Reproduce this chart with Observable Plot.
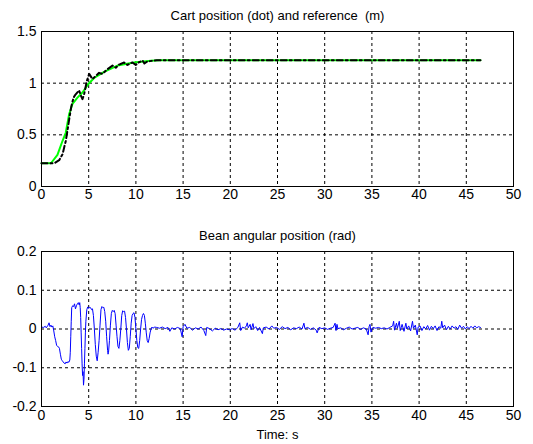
<!DOCTYPE html>
<html>
<head>
<meta charset="utf-8">
<script src="https://cdn.jsdelivr.net/npm/d3@7"></script>
<script src="https://cdn.jsdelivr.net/npm/@observablehq/plot@0.6"></script>
<style>
  html, body { margin: 0; padding: 0; background: white; }
  #chart { width: 533px; height: 444px; }
  #chart svg { display: block; }
</style>
</head>
<body>
<div id="chart"></div>
<script>
// ---- Text ----
const topTitle = "Cart position (dot) and reference  (m)";
const bottomTitle = "Bean angular position (rad)";
const xAxisTitle = "Time: s";

// ---- Ticks ----
const xTicks = [0, 5, 10, 15, 20, 25, 30, 35, 40, 45, 50];
const topYTicks = [0, 0.5, 1, 1.5];
const bottomYTicks = [-0.2, -0.1, 0, 0.1, 0.2];

// ---- Reference (green) ----
const refT = [0, 1.0, 1.69, 2.22, 2.57, 2.93, 3.28, 3.81, 4.34, 4.94, 5.57, 6.63, 8.05, 9.8, 11.6, 12.5, 46.5];
const refV = [0.225, 0.225, 0.306, 0.44, 0.52, 0.70, 0.80, 0.86, 0.91, 0.99, 1.05, 1.11, 1.17, 1.2, 1.216, 1.222, 1.222];

// ---- Cart position (black dash-dot) ----
const cartT = [0, 1.35, 1.87, 2.22, 2.57, 2.75, 2.95, 3.15, 3.39, 3.6, 3.98, 4.17, 4.34, 4.51, 4.8, 5.05, 5.4, 5.75, 6.1, 6.45, 6.99, 7.52, 7.87, 8.22, 8.75, 9.1, 9.63, 9.98, 10.3, 10.7, 10.9, 11.2, 11.7, 12.2, 46.5];
const cartV = [0.225, 0.225, 0.255, 0.31, 0.44, 0.54, 0.66, 0.77, 0.86, 0.89, 0.93, 0.88, 0.845, 0.89, 1.02, 1.09, 1.04, 1.07, 1.10, 1.09, 1.135, 1.17, 1.15, 1.18, 1.2, 1.177, 1.2, 1.177, 1.2, 1.22, 1.19, 1.21, 1.216, 1.222, 1.222];

// ---- Beam angle (blue) ----
const angleT = [
  0, 0.2, 0.4, 0.5, 0.7, 0.8, 0.9, 1.0, 1.1, 1.2, 1.3, 1.4, 1.5, 1.6, 1.7, 1.8, 1.9, 2.0, 2.1, 2.2, 2.3, 2.4, 2.5, 2.6, 2.7, 2.8, 2.9, 3.0, 3.05, 3.1, 3.15, 3.2, 3.3, 3.4, 3.5, 3.6, 3.7, 3.8, 3.9, 4.0, 4.05, 4.1, 4.15, 4.2, 4.25, 4.3, 4.35, 4.4, 4.45, 4.5, 4.55, 4.6, 4.65, 4.7, 4.8, 4.9, 5.0, 5.1, 5.2, 5.3, 5.4, 5.5, 5.6, 5.7, 5.8, 5.9, 6.0, 6.1, 6.2, 6.3, 6.4, 6.5, 6.6, 6.7, 6.8, 6.9, 7.0, 7.05, 7.1, 7.2, 7.3, 7.4, 7.5, 7.6, 7.7, 7.8, 7.9, 8.0, 8.1, 8.2, 8.3, 8.4, 8.5, 8.6, 8.7, 8.8, 8.9, 9.0, 9.1, 9.2, 9.3, 9.4, 9.5, 9.6, 9.7, 9.8, 9.9, 10.0, 10.1, 10.2, 10.3, 10.4, 10.5, 10.6, 10.7, 10.8, 10.9, 11.0, 11.1, 11.2, 11.3, 11.4, 11.5, 11.6, 11.7, 11.8, 12.0,
  12.2, 12.5, 12.8, 13.1, 13.4, 13.6, 13.8, 14.1, 14.4, 14.7, 14.9, 15.0, 15.2, 15.4, 15.7, 16.0, 16.3, 16.6, 16.9, 17.2, 17.4, 17.5, 17.8, 18.1, 18.4, 18.7, 19.0, 19.3, 19.6, 19.9, 20.2, 20.5, 20.8, 21.0, 21.1, 21.3, 21.5, 21.7, 21.8, 21.9, 22.1, 22.2, 22.4, 22.5, 22.7, 22.9, 23.1, 23.4, 23.5, 23.8, 24.1, 24.4, 24.6, 24.9, 25.2, 25.5, 25.8, 26.1, 26.4, 26.7, 27.0, 27.3, 27.6, 27.8, 27.9, 28.2, 28.5, 28.8, 29.1, 29.2, 29.4, 29.7, 30.0, 30.3, 30.6, 30.9, 31.1, 31.2, 31.3, 31.4, 31.7, 32.0, 32.3, 32.6, 32.9, 33.2, 33.5, 33.8, 34.1, 34.4, 34.6, 34.7, 34.8, 34.9, 35.1, 35.4, 35.7, 36.0, 36.3, 36.6, 36.9, 37.2, 37.3, 37.4, 37.6, 37.7, 37.9, 38.0, 38.2, 38.4, 38.6, 38.7, 38.9, 39.1, 39.3, 39.4, 39.6, 39.8, 39.9, 40.1, 40.3, 40.5, 40.7, 40.9, 41.1, 41.3, 41.5, 41.7, 41.9, 42.1, 42.3, 42.4, 42.5, 42.7, 42.9, 43.1, 43.3, 43.5, 43.7, 43.9, 44.1, 44.3, 44.5, 44.7, 44.9, 45.1, 45.3, 45.5, 45.7, 45.9, 46.1, 46.3, 46.5
];
const angleV = [
  0.005, 0.004, 0.007, 0.003, 0.01, 0.016, 0.006, 0.01, 0.005, 0.008, -0.005, -0.02, -0.03, -0.042, -0.045, -0.046, -0.05, -0.065, -0.078, -0.082, -0.085, -0.088, -0.09, -0.085, -0.088, -0.084, -0.086, -0.08, -0.06, -0.02, 0.02, 0.055, 0.06, 0.058, 0.065, 0.052, 0.06, 0.065, 0.068, 0.062, 0.068, 0.055, 0.03, -0.01, -0.05, -0.09, -0.12, -0.11, -0.145, -0.13, -0.09, -0.05, -0.01, 0.02, 0.05, 0.057, 0.053, 0.056, 0.055, 0.05, 0.052, 0.035, 0.0, -0.04, -0.07, -0.082, -0.06, -0.03, 0.01, 0.05, 0.058, 0.055, 0.056, 0.045, 0.02, -0.02, -0.055, -0.065, -0.06, -0.03, 0.01, 0.04, 0.048, 0.045, 0.048, 0.04, 0.01, -0.02, -0.045, -0.05, -0.03, 0.0, 0.035, 0.047, 0.045, 0.046, 0.03, 0.0, -0.035, -0.055, -0.05, -0.02, 0.015, 0.035, 0.04, 0.042, 0.03, 0.0, -0.03, -0.048, -0.05, -0.03, 0.0, 0.025, 0.035, 0.04, 0.035, 0.015, -0.01, -0.03, -0.035, -0.025, -0.01, 0.0, 0.005, 0.002, 0.005,
  0.004, 0.002, 0.005, 0.001, 0.004, -0.006, 0.003, 0.0, 0.004, 0.001, -0.02, 0.006, 0.012, 0.002, 0.004, -0.003, 0.003, 0.0, 0.005, -0.004, -0.017, 0.004, 0.001, -0.005, 0.002, -0.002, 0.001, -0.003, 0.0, -0.002, 0.001, -0.003, 0.004, 0.016, -0.004, 0.005, 0.002, 0.008, 0.016, 0.003, 0.012, -0.002, 0.014, 0.001, 0.006, -0.004, 0.004, -0.012, 0.003, 0.005, 0.0, 0.008, 0.002, 0.004, -0.001, 0.006, 0.001, 0.004, -0.002, 0.003, 0.001, 0.005, 0.0, 0.015, 0.001, 0.004, -0.001, 0.003, -0.003, -0.01, 0.004, 0.001, 0.003, -0.001, 0.002, 0.004, 0.015, -0.004, 0.012, 0.001, 0.003, -0.002, 0.002, 0.005, 0.0, 0.002, 0.004, -0.001, 0.003, 0.0, -0.015, 0.006, 0.012, -0.008, 0.004, 0.002, 0.004, 0.001, 0.003, 0.0, 0.004, 0.008, 0.02, -0.003, 0.015, 0.002, 0.02, -0.004, 0.012, -0.006, 0.015, 0.0, 0.008, -0.005, 0.02, 0.002, 0.01, -0.015, 0.005, 0.008, -0.004, 0.006, 0.0, 0.009, -0.003, 0.007, 0.001, 0.008, -0.004, 0.006, 0.002, 0.02, 0.003, 0.01, -0.002, 0.007, 0.0, 0.008, 0.002, 0.006, -0.001, 0.01, 0.002, 0.007, 0.0, 0.006, 0.001, 0.007, 0.002, 0.008, 0.003, 0.006, 0.004
];

const refData = refT.map((t, i) => ({t, v: refV[i]}));
const cartData = cartT.map((t, i) => ({t, v: cartV[i]}));
const angleData = angleT.map((t, i) => ({t, v: angleV[i]}));

const font = "'Liberation Sans', Arial, Helvetica, sans-serif";
const fmt = d => String(d);
const gridStyle = {stroke: "black", strokeOpacity: 1, strokeWidth: 1, strokeDasharray: "3,3"};

const topChart = Plot.plot({
  width: 533, height: 210,
  marginLeft: 41, marginRight: 20, marginTop: 31, marginBottom: 24,
  style: {fontFamily: font, fontSize: "14px", background: "white", color: "black"},
  x: {domain: [0, 50], ticks: xTicks, tickFormat: fmt, tickSize: 0, tickPadding: 3, label: null},
  y: {domain: [0, 1.5], ticks: topYTicks, tickFormat: fmt, tickSize: 0, tickPadding: 5, label: null},
  marks: [
    Plot.gridX(xTicks, {x: d => d, ...gridStyle}),
    Plot.gridY(topYTicks, {y: d => d, ...gridStyle}),
    Plot.line(refData, {x: "t", y: "v", stroke: "#00ff00", strokeWidth: 2}),
    Plot.line(cartData, {x: "t", y: "v", stroke: "black", strokeWidth: 2, strokeDasharray: "6,3,2,3"}),
    Plot.frame({stroke: "black"}),
    Plot.text([topTitle], {text: d => d, frameAnchor: "top", dy: -16, lineAnchor: "middle", fontSize: 13})
  ]
});

const bottomChart = Plot.plot({
  width: 533, height: 234,
  marginLeft: 41, marginRight: 20, marginTop: 41, marginBottom: 38,
  style: {fontFamily: font, fontSize: "14px", background: "white", color: "black"},
  x: {domain: [0, 50], ticks: xTicks, tickFormat: fmt, tickSize: 0, tickPadding: 4, label: null},
  y: {domain: [-0.2, 0.2], ticks: bottomYTicks, tickFormat: fmt, tickSize: 0, tickPadding: 5, label: null},
  marks: [
    Plot.gridX(xTicks, {x: d => d, ...gridStyle}),
    Plot.gridY(bottomYTicks, {y: d => d, ...gridStyle}),
    Plot.line(angleData, {x: "t", y: "v", stroke: "#0000ff", strokeWidth: 1}),
    Plot.frame({stroke: "black"}),
    Plot.text([bottomTitle], {text: d => d, frameAnchor: "top", dy: -16, lineAnchor: "middle", fontSize: 13}),
    Plot.text([xAxisTitle], {text: d => d, frameAnchor: "bottom", dy: 28, lineAnchor: "middle", fontSize: 13})
  ]
});

const chart = document.getElementById("chart");
chart.appendChild(topChart);
chart.appendChild(bottomChart);
</script>
</body>
</html>
